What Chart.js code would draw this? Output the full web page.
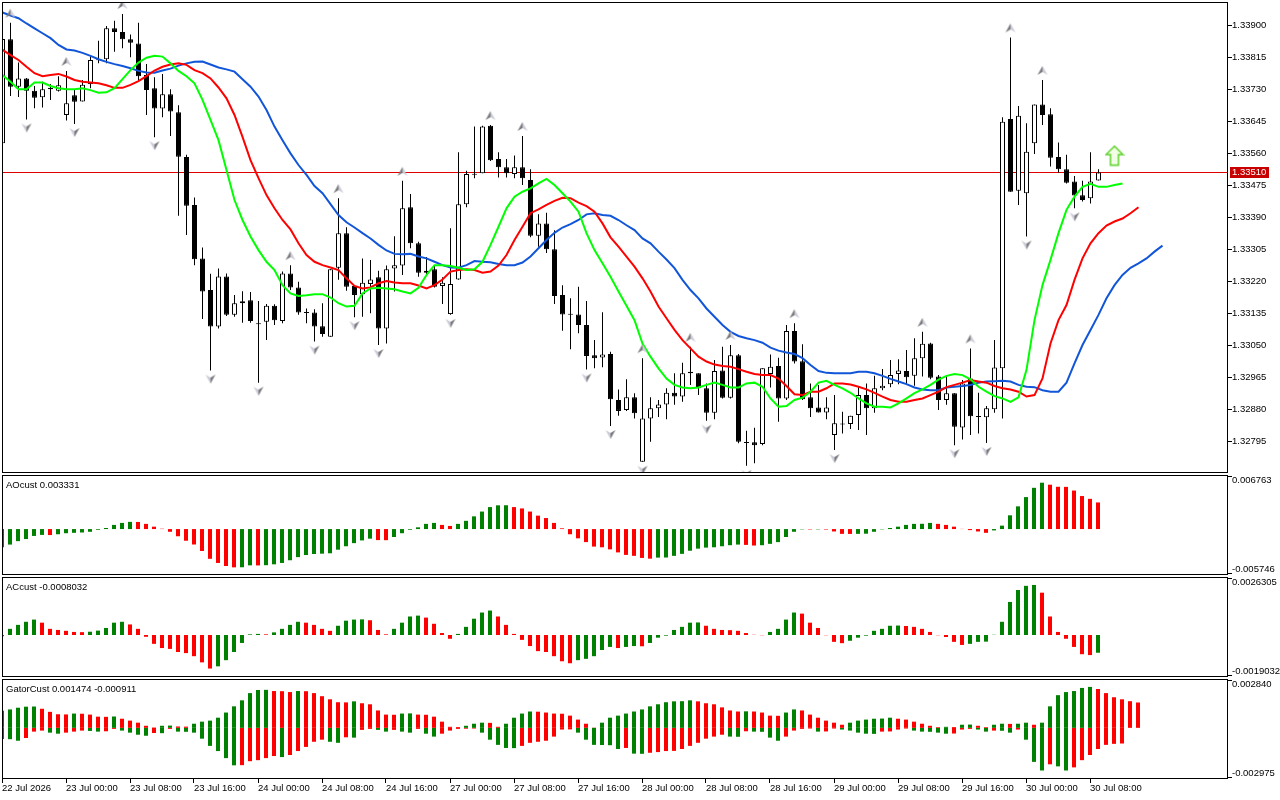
<!DOCTYPE html>
<html>
<head>
<meta charset="utf-8">
<title>H1 chart with Alligator, AO, AC, Gator</title>
<script src="https://cdn.jsdelivr.net/npm/chart.js@4.4.0/dist/chart.umd.min.js"></script>
<style>
  html, body { margin: 0; padding: 0; background: #fff; }
  body { width: 1280px; height: 800px; position: relative; overflow: hidden; }
  canvas { position: absolute; left: 0; }
</style>
</head>
<body>
<canvas id="mainChart" width="1280" height="475" style="top:0px"></canvas>
<canvas id="aoChart" width="1280" height="101" style="top:475px"></canvas>
<canvas id="acChart" width="1280" height="101" style="top:577px"></canvas>
<canvas id="gatorChart" width="1280" height="121" style="top:679px"></canvas>
<script>
// ---- data (one entry per H1 bar) ----
const opens = [
  1.33588,1.33864,1.33738,1.33760,1.33727,1.33710,1.33735,1.33727,1.33663,1.33715,
  1.33699,1.33745,1.33808,1.33811,1.33893,1.33883,1.33864,1.33853,1.33769,1.33734,
  1.33680,1.33718,1.33670,1.33551,1.33424,1.33282,1.33198,1.33101,1.33234,1.33132,
  1.33163,1.33171,1.33108,1.33114,1.33156,1.33116,1.33242,1.33205,1.33138,1.33138,
  1.33102,1.33074,1.33257,1.33349,1.33209,1.33187,1.33214,1.33232,1.33096,1.33255,
  1.33263,1.33418,1.33322,1.33244,1.33253,1.33209,1.33134,1.33226,1.33426,1.33506,
  1.33508,1.33634,1.33546,1.33524,1.33506,1.33524,1.33490,1.33342,1.33375,1.33306,
  1.33185,1.33133,1.33133,1.33105,1.33025,1.33019,1.33028,1.32906,1.32879,1.32913,
  1.32742,1.32857,1.32884,1.32894,1.32925,1.32915,1.32981,1.32977,1.32937,1.32872,
  1.32984,1.32912,1.33025,1.32792,1.32794,1.32789,1.32975,1.32996,1.32910,1.33089,
  1.33009,1.32913,1.32886,1.32873,1.32813,1.32842,1.32842,1.32866,1.32919,1.32884,
  1.32937,1.32948,1.32975,1.32983,1.32970,1.33017,1.33056,1.32968,1.32906,1.32924,
  1.32833,1.32963,1.32863,1.32860,1.32881,1.32990,1.33652,1.33462,1.33455,1.33588,
  1.33691,1.33665,1.33551,1.33519,1.33486,1.33450,1.33442,1.33489
];
const highs = [
  1.33875,1.33908,1.33802,1.33761,1.33740,1.33751,1.33745,1.33766,1.33780,1.33729,
  1.33756,1.33818,1.33860,1.33899,1.33913,1.33931,1.33877,1.33908,1.33798,1.33763,
  1.33772,1.33731,1.33689,1.33557,1.33444,1.33311,1.33241,1.33255,1.33242,1.33185,
  1.33195,1.33193,1.33169,1.33161,1.33160,1.33247,1.33264,1.33220,1.33149,1.33147,
  1.33163,1.33253,1.33442,1.33365,1.33211,1.33282,1.33278,1.33249,1.33263,1.33341,
  1.33488,1.33453,1.33326,1.33286,1.33264,1.33232,1.33362,1.33564,1.33515,1.33632,
  1.33634,1.33636,1.33564,1.33546,1.33555,1.33607,1.33519,1.33399,1.33403,1.33357,
  1.33211,1.33176,1.33207,1.33169,1.33065,1.33139,1.33034,1.32934,1.32961,1.32924,
  1.33017,1.32913,1.32906,1.32937,1.32977,1.33005,1.33047,1.32977,1.32950,1.33012,
  1.33047,1.33052,1.33028,1.32824,1.32832,1.32990,1.33027,1.33018,1.33105,1.33110,
  1.33054,1.32950,1.32946,1.32913,1.32919,1.32875,1.32864,1.32941,1.32950,1.32970,
  1.32988,1.33012,1.33014,1.33039,1.33070,1.33087,1.33058,1.32972,1.32968,1.32924,
  1.32959,1.33043,1.32925,1.32890,1.33065,1.33657,1.33869,1.33687,1.33641,1.33691,
  1.33756,1.33681,1.33590,1.33557,1.33501,1.33488,1.33564,1.33519
];
const lows = [
  1.33588,1.33713,1.33711,1.33651,1.33681,1.33683,1.33703,1.33725,1.33648,1.33639,
  1.33699,1.33734,1.33800,1.33800,1.33831,1.33840,1.33816,1.33754,1.33663,1.33604,
  1.33657,1.33607,1.33395,1.33344,1.33264,1.33121,1.32984,1.33096,1.33129,1.33127,
  1.33111,1.33111,1.32952,1.33065,1.33105,1.33110,1.33198,1.33132,1.33110,1.33061,
  1.33074,1.33074,1.33225,1.33196,1.33126,1.33127,1.33136,1.33052,1.33056,1.33194,
  1.33238,1.33309,1.33233,1.33238,1.33205,1.33161,1.33132,1.33225,1.33418,1.33495,
  1.33508,1.33541,1.33497,1.33497,1.33495,1.33477,1.33338,1.33313,1.33296,1.33161,
  1.33090,1.33041,1.33083,1.32987,1.32990,1.32993,1.32837,1.32864,1.32877,1.32857,
  1.32742,1.32795,1.32861,1.32855,1.32893,1.32901,1.32946,1.32919,1.32851,1.32855,
  1.32910,1.32910,1.32791,1.32731,1.32738,1.32786,1.32939,1.32848,1.32906,1.33003,
  1.32906,1.32861,1.32873,1.32855,1.32773,1.32817,1.32829,1.32826,1.32813,1.32872,
  1.32932,1.32940,1.32948,1.32948,1.32944,1.32968,1.32961,1.32879,1.32893,1.32786,
  1.32801,1.32813,1.32817,1.32792,1.32872,1.32857,1.33459,1.33424,1.33340,1.33559,
  1.33636,1.33526,1.33510,1.33481,1.33415,1.33433,1.33428,1.33489
];
const closes = [
  1.33865,1.33738,1.33760,1.33727,1.33709,1.33731,1.33731,1.33742,1.33694,1.33698,
  1.33743,1.33809,1.33810,1.33893,1.33883,1.33864,1.33855,1.33766,1.33729,1.33680,
  1.33718,1.33672,1.33552,1.33422,1.33280,1.33194,1.33101,1.33234,1.33132,1.33163,
  1.33168,1.33116,1.33107,1.33156,1.33118,1.33242,1.33205,1.33138,1.33137,1.33101,
  1.33081,1.33253,1.33349,1.33207,1.33185,1.33217,1.33226,1.33096,1.33253,1.33264,
  1.33415,1.33322,1.33244,1.33249,1.33207,1.33217,1.33214,1.33426,1.33506,1.33504,
  1.33632,1.33543,1.33524,1.33508,1.33524,1.33495,1.33342,1.33375,1.33306,1.33182,
  1.33133,1.33132,1.33105,1.33023,1.33017,1.33027,1.32908,1.32877,1.32913,1.32871,
  1.32857,1.32884,1.32894,1.32925,1.32915,1.32977,1.32977,1.32937,1.32872,1.32983,
  1.32912,1.33025,1.32795,1.32793,1.32786,1.32990,1.32994,1.32910,1.33089,1.33008,
  1.32908,1.32884,1.32873,1.32886,1.32844,1.32841,1.32864,1.32919,1.32884,1.32937,
  1.32944,1.32972,1.32984,1.32966,1.33017,1.33055,1.32965,1.32906,1.32924,1.32835,
  1.32950,1.32863,1.32861,1.32884,1.32992,1.33645,1.33459,1.33661,1.33565,1.33691,
  1.33663,1.33549,1.33519,1.33483,1.33449,1.33437,1.33486,1.33510
];

// Alligator lines (they run past the last bar: jaw +8, teeth +5, lips +3)
const jaw = [
  1.33935,1.33927,1.33920,1.33906,1.33893,1.33880,1.33867,1.33849,1.33837,1.33834,
  1.33828,1.33820,1.33811,1.33804,1.33798,1.33793,1.33787,1.33780,1.33776,1.33775,
  1.33781,1.33786,1.33794,1.33800,1.33804,1.33805,1.33797,1.33789,1.33784,1.33778,
  1.33758,1.33738,1.33712,1.33676,1.33632,1.33596,1.33561,1.33530,1.33504,1.33474,
  1.33455,1.33426,1.33397,1.33378,1.33364,1.33349,1.33335,1.33318,1.33303,1.33294,
  1.33293,1.33294,1.33287,1.33282,1.33273,1.33264,1.33258,1.33257,1.33264,1.33275,
  1.33273,1.33272,1.33267,1.33264,1.33264,1.33271,1.33287,1.33309,1.33331,1.33350,
  1.33364,1.33373,1.33384,1.33399,1.33402,1.33397,1.33395,1.33384,1.33370,1.33357,
  1.33335,1.33322,1.33300,1.33279,1.33256,1.33225,1.33198,1.33176,1.33149,1.33127,
  1.33105,1.33087,1.33076,1.33070,1.33065,1.33058,1.33045,1.33037,1.33032,1.33028,
  1.33017,1.32999,1.32983,1.32978,1.32977,1.32977,1.32977,1.32981,1.32981,1.32977,
  1.32970,1.32962,1.32955,1.32948,1.32939,1.32934,1.32932,1.32932,1.32939,1.32941,
  1.32943,1.32946,1.32952,1.32955,1.32956,1.32957,1.32955,1.32946,1.32941,1.32940,
  1.32932,1.32928,1.32928,1.32952,1.33003,1.33052,1.33092,1.33132,1.33176,1.33211,
  1.33238,1.33257,1.33269,1.33282,1.33300,1.33316
];
const teeth = [
  1.33836,1.33822,1.33809,1.33791,1.33774,1.33766,1.33769,1.33772,1.33765,1.33756,
  1.33751,1.33749,1.33747,1.33742,1.33735,1.33735,1.33743,1.33753,1.33766,1.33781,
  1.33791,1.33797,1.33800,1.33796,1.33782,1.33774,1.33760,1.33736,1.33707,1.33663,
  1.33605,1.33543,1.33495,1.33450,1.33415,1.33384,1.33359,1.33322,1.33291,1.33273,
  1.33264,1.33258,1.33251,1.33229,1.33209,1.33202,1.33205,1.33216,1.33222,1.33218,
  1.33216,1.33216,1.33210,1.33202,1.33211,1.33226,1.33247,1.33251,1.33253,1.33251,
  1.33244,1.33247,1.33263,1.33291,1.33331,1.33366,1.33402,1.33412,1.33424,1.33435,
  1.33443,1.33442,1.33430,1.33421,1.33406,1.33375,1.33338,1.33313,1.33287,1.33260,
  1.33229,1.33194,1.33154,1.33123,1.33092,1.33065,1.33043,1.33021,1.33008,1.33000,
  1.32996,1.32994,1.32988,1.32981,1.32975,1.32972,1.32972,1.32963,1.32943,1.32921,
  1.32919,1.32928,1.32928,1.32937,1.32950,1.32950,1.32947,1.32941,1.32934,1.32925,
  1.32915,1.32906,1.32901,1.32901,1.32906,1.32910,1.32919,1.32928,1.32940,1.32946,
  1.32952,1.32959,1.32955,1.32952,1.32943,1.32937,1.32934,1.32928,1.32915,1.32919,
  1.32963,1.33056,1.33118,1.33158,1.33225,1.33282,1.33322,1.33349,1.33369,1.33380,
  1.33388,1.33402,1.33418
];
const lips = [
  1.33769,1.33751,1.33731,1.33731,1.33749,1.33749,1.33740,1.33734,1.33731,1.33731,
  1.33734,1.33729,1.33722,1.33723,1.33734,1.33758,1.33782,1.33802,1.33815,1.33820,
  1.33818,1.33800,1.33780,1.33766,1.33747,1.33703,1.33650,1.33596,1.33517,1.33437,
  1.33384,1.33340,1.33304,1.33273,1.33251,1.33211,1.33189,1.33182,1.33184,1.33187,
  1.33187,1.33178,1.33163,1.33154,1.33156,1.33189,1.33202,1.33204,1.33202,1.33200,
  1.33194,1.33189,1.33204,1.33238,1.33264,1.33264,1.33262,1.33257,1.33251,1.33253,
  1.33273,1.33318,1.33366,1.33415,1.33446,1.33459,1.33468,1.33481,1.33493,1.33477,
  1.33455,1.33433,1.33406,1.33349,1.33304,1.33269,1.33233,1.33194,1.33156,1.33118,
  1.33056,1.33021,1.32990,1.32963,1.32946,1.32939,1.32937,1.32939,1.32946,1.32952,
  1.32946,1.32939,1.32939,1.32950,1.32952,1.32941,1.32910,1.32888,1.32890,1.32906,
  1.32912,1.32928,1.32952,1.32957,1.32946,1.32937,1.32925,1.32910,1.32897,1.32888,
  1.32888,1.32886,1.32897,1.32910,1.32924,1.32934,1.32946,1.32960,1.32970,1.32975,
  1.32972,1.32961,1.32941,1.32928,1.32916,1.32910,1.32901,1.32913,1.32986,1.33118,
  1.33211,1.33278,1.33349,1.33411,1.33446,1.33472,1.33480,1.33472,1.33472,1.33477,
  1.33481
];

// bars that carry a fractal arrow
const fractalUpIdx = [1, 8, 15, 36, 42, 50, 61, 65, 80, 86, 91, 99, 115, 121, 126, 130];
const fractalDownIdx = [3, 9, 19, 26, 32, 39, 44, 47, 56, 73, 76, 80, 88, 93, 104, 119, 123, 128, 134];

const bidPrice = 1.33510;
const signalIdx = 139;
const signalPrice = 1.33555;

// oscillators
const ao = [
  -0.00228,-0.00194,-0.00151,-0.00125,-0.00086,-0.00073,-0.00075,-0.00065,-0.00052,-0.00047,
  -0.00043,-0.00034,-0.00009,0.00013,0.00052,0.00077,0.00090,0.00089,0.00065,0.00030,
  0.00004,-0.00034,-0.00090,-0.00146,-0.00193,-0.00274,-0.00372,-0.00424,-0.00462,-0.00479,
  -0.00478,-0.00454,-0.00455,-0.00452,-0.00441,-0.00424,-0.00390,-0.00351,-0.00325,-0.00312,
  -0.00308,-0.00303,-0.00258,-0.00215,-0.00176,-0.00142,-0.00120,-0.00138,-0.00139,-0.00099,
  -0.00052,-0.00009,0.00022,0.00065,0.00077,0.00052,0.00039,0.00065,0.00103,0.00159,
  0.00219,0.00275,0.00297,0.00298,0.00275,0.00258,0.00219,0.00168,0.00138,0.00077,
  0.00009,-0.00065,-0.00116,-0.00163,-0.00219,-0.00228,-0.00254,-0.00292,-0.00323,-0.00335,
  -0.00361,-0.00370,-0.00357,-0.00356,-0.00335,-0.00310,-0.00271,-0.00245,-0.00232,-0.00228,
  -0.00215,-0.00202,-0.00194,-0.00198,-0.00206,-0.00202,-0.00185,-0.00163,-0.00099,-0.00034,
  -0.00004,-0.00005,-0.00004,-0.00006,-0.00030,-0.00060,-0.00061,-0.00060,-0.00058,-0.00034,
  -0.00004,0.00013,0.00030,0.00052,0.00065,0.00066,0.00077,0.00065,0.00052,0.00030,
  0.00002,-0.00013,-0.00030,-0.00047,-0.00017,0.00043,0.00172,0.00284,0.00400,0.00516,
  0.00580,0.00555,0.00529,0.00528,0.00482,0.00413,0.00378,0.003331
];
const ac = [
  -0.00006,0.00028,0.00046,0.00060,0.00070,0.00056,0.00028,0.00023,0.00019,0.00014,
  0.00013,0.00015,0.00020,0.00032,0.00056,0.00060,0.00048,0.00028,-0.00008,-0.00040,
  -0.00059,-0.00063,-0.00077,-0.00082,-0.00096,-0.00124,-0.00152,-0.00142,-0.00114,-0.00077,
  -0.00036,0.00003,0.00005,0.00003,0.00012,0.00028,0.00046,0.00060,0.00056,0.00046,
  0.00028,0.00019,0.00042,0.00065,0.00070,0.00071,0.00067,0.00023,0.00003,0.00028,
  0.00056,0.00084,0.00088,0.00079,0.00051,0.00009,-0.00017,0.00005,0.00037,0.00074,
  0.00102,0.00111,0.00084,0.00046,0.00005,-0.00022,-0.00050,-0.00073,-0.00077,-0.00096,
  -0.00119,-0.00128,-0.00114,-0.00108,-0.00096,-0.00068,-0.00054,-0.00059,-0.00054,-0.00050,
  -0.00051,-0.00036,-0.00012,-0.00003,0.00023,0.00037,0.00056,0.00057,0.00042,0.00028,
  0.00023,0.00022,0.00019,0.00009,0.00001,-0.00001,0.00014,0.00028,0.00070,0.00102,
  0.00097,0.00056,0.00032,-0.00001,-0.00031,-0.00037,-0.00026,-0.00012,-0.00003,0.00019,
  0.00028,0.00042,0.00043,0.00041,0.00037,0.00028,0.00014,-0.00001,-0.00009,-0.00031,
  -0.00045,-0.00040,-0.00031,-0.00030,0.00001,0.00060,0.00150,0.00204,0.00223,0.00227,
  0.00192,0.00084,0.00014,-0.00017,-0.00054,-0.00087,-0.00091,-0.0008032
];
const gatorUp = [
  0.00099,0.00107,0.00117,0.00123,0.00124,0.00111,0.00093,0.00079,0.00078,0.00083,
  0.00082,0.00077,0.00065,0.00064,0.00066,0.00053,0.00042,0.00030,0.00012,0.00002,
  0.00012,0.00013,0.00008,0.00007,0.00024,0.00036,0.00042,0.00059,0.00089,0.00125,
  0.00160,0.00202,0.00220,0.00221,0.00214,0.00213,0.00208,0.00214,0.00213,0.00202,
  0.00184,0.00166,0.00149,0.00148,0.00154,0.00143,0.00137,0.00101,0.00077,0.00076,
  0.00083,0.00084,0.00077,0.00076,0.00065,0.00036,0.00006,0.00005,0.00012,0.00024,
  0.00030,0.00029,0.00006,0.00024,0.00059,0.00083,0.00095,0.00094,0.00089,0.00083,
  0.00082,0.00071,0.00048,0.00024,0.00001,0.00030,0.00059,0.00071,0.00083,0.00095,
  0.00107,0.00125,0.00137,0.00149,0.00154,0.00155,0.00160,0.00154,0.00143,0.00137,
  0.00119,0.00101,0.00095,0.00096,0.00095,0.00089,0.00071,0.00070,0.00089,0.00107,
  0.00101,0.00077,0.00059,0.00042,0.00030,0.00018,0.00030,0.00042,0.00048,0.00053,
  0.00054,0.00059,0.00053,0.00048,0.00036,0.00024,0.00012,0.00004,0.00006,0.00005,
  0.00018,0.00019,0.00012,0.00004,0.00018,0.00024,0.00023,0.00024,0.00030,0.00018,
  0.00030,0.00125,0.00190,0.00208,0.00214,0.00232,0.00238,0.00226,0.00202,0.00178,
  0.00166,0.00155,0.001474
];
const gatorDown = [
  -0.00065,-0.00066,-0.00075,-0.00059,-0.00022,-0.00016,-0.00028,-0.00034,-0.00028,-0.00022,
  -0.00016,-0.00018,-0.00022,-0.00020,-0.00006,-0.00016,-0.00028,-0.00040,-0.00046,-0.00030,
  -0.00031,-0.00006,-0.00022,-0.00023,-0.00028,-0.00063,-0.00105,-0.00135,-0.00176,-0.00218,
  -0.00217,-0.00194,-0.00188,-0.00176,-0.00164,-0.00170,-0.00158,-0.00135,-0.00111,-0.00081,
  -0.00069,-0.00081,-0.00087,-0.00055,-0.00057,-0.00012,-0.00006,-0.00012,-0.00022,-0.00012,
  -0.00022,-0.00028,-0.00006,-0.00034,-0.00051,-0.00034,-0.00016,-0.00006,-0.00005,-0.00004,
  -0.00028,-0.00069,-0.00099,-0.00117,-0.00118,-0.00105,-0.00087,-0.00081,-0.00075,-0.00051,
  -0.00010,-0.00009,-0.00028,-0.00069,-0.00099,-0.00100,-0.00101,-0.00123,-0.00117,-0.00150,
  -0.00151,-0.00145,-0.00141,-0.00135,-0.00134,-0.00123,-0.00105,-0.00087,-0.00063,-0.00051,
  -0.00040,-0.00051,-0.00052,-0.00020,-0.00022,-0.00023,-0.00057,-0.00075,-0.00051,-0.00016,
  -0.00006,-0.00004,-0.00022,-0.00021,-0.00004,-0.00010,-0.00016,-0.00028,-0.00034,-0.00035,
  -0.00022,-0.00021,-0.00010,-0.00004,-0.00016,-0.00022,-0.00023,-0.00028,-0.00034,-0.00033,
  -0.00010,-0.00006,-0.00010,-0.00022,-0.00016,-0.00017,-0.00028,-0.00010,-0.00069,-0.00198,
  -0.00248,-0.00212,-0.00224,-0.00248,-0.00230,-0.00188,-0.00158,-0.00123,-0.00099,-0.00093,
  -0.000911
];

// axis ranges and tick labels
const priceRange = [1.32712, 1.33963];
const priceTicks = [1.33900, 1.33815, 1.33730, 1.33645, 1.33560, 1.33475, 1.33390,
                    1.33305, 1.33220, 1.33135, 1.33050, 1.32965, 1.32880, 1.32795];
const aoRange = [-0.005746, 0.006763];
const acRange = [-0.0019032, 0.0026305];
const gatorRange = [-0.002975, 0.002840];
const timeTickIdx = [0, 8, 16, 24, 32, 40, 48, 56, 64, 72, 80, 88, 96, 104, 112, 120, 128, 136];
const timeLabels = ['22 Jul 2026', '23 Jul 00:00', '23 Jul 08:00', '23 Jul 16:00', '24 Jul 00:00',
  '24 Jul 08:00', '24 Jul 16:00', '27 Jul 00:00', '27 Jul 08:00', '27 Jul 16:00', '28 Jul 00:00',
  '28 Jul 08:00', '28 Jul 16:00', '29 Jul 00:00', '29 Jul 08:00', '29 Jul 16:00', '30 Jul 00:00',
  '30 Jul 08:00'];

// ---- look ----
const FONT_FAMILY = '"Liberation Sans", Arial, sans-serif';
const FONT_SIZE = 9.5;
const GREEN = '#008000';
const RED = '#ff0000';

// grey arrow heads drawn a few pixels off the high / low
function makeFractalIcon(up) {
  const c = document.createElement('canvas');
  c.width = 12; c.height = 36;
  const g = c.getContext('2d');
  const s = up ? 1 : -1;
  const cy = up ? 18 - 9 : 18 + 8;
  const tip = [6, cy - 5 * s], lw = [1, cy + 4 * s], rw = [11, cy + 4 * s], notch = [6, cy + 1 * s];
  g.fillStyle = up ? '#7a7a7a' : '#c9cad8';
  g.beginPath(); g.moveTo(...tip); g.lineTo(...lw); g.lineTo(...notch); g.closePath(); g.fill();
  g.fillStyle = up ? '#c9cad8' : '#7a7a7a';
  g.beginPath(); g.moveTo(...tip); g.lineTo(...rw); g.lineTo(...notch); g.closePath(); g.fill();
  return c;
}

function makeSignalIcon() {
  const c = document.createElement('canvas');
  c.width = 20; c.height = 22;
  const g = c.getContext('2d');
  g.beginPath();
  g.moveTo(10, 1.5); g.lineTo(18.5, 10); g.lineTo(14, 10); g.lineTo(14, 20.5);
  g.lineTo(6, 20.5); g.lineTo(6, 10); g.lineTo(1.5, 10); g.closePath();
  g.fillStyle = '#f2ffe6'; g.fill();
  g.strokeStyle = '#5ed12a'; g.lineWidth = 1.5; g.stroke();
  return c;
}

// frame, side labels and bid line for each window
const panelPlugin = {
  id: 'panel',
  beforeDatasetsDraw(chart, args, o) {
    if (o.bid === undefined) return;
    const a = chart.chartArea, ctx = chart.ctx;
    const y = Math.floor(chart.scales.y.getPixelForValue(o.bid));
    ctx.save();
    ctx.fillStyle = '#e00000';
    ctx.fillRect(a.left, y, a.right - a.left, 1);
    ctx.restore();
  },
  afterDraw(chart, args, o) {
    const a = chart.chartArea, ctx = chart.ctx;
    ctx.save();
    ctx.strokeStyle = '#000'; ctx.lineWidth = 1;
    ctx.strokeRect(a.left + 0.5, a.top + 0.5, a.right - a.left - 1, a.bottom - a.top - 1);
    ctx.font = FONT_SIZE + 'px ' + FONT_FAMILY;
    ctx.textBaseline = 'middle'; ctx.textAlign = 'left'; ctx.fillStyle = '#000';
    if (o.title) ctx.fillText(o.title, a.left + 4, a.top + 10);
    if (o.range) {
      const ys = chart.scales.y;
      const top = ys.getPixelForValue(o.range[1]);
      const bot = ys.getPixelForValue(o.range[0]);
      ctx.beginPath();
      ctx.moveTo(a.right, Math.round(top) + 1.5); ctx.lineTo(a.right + 4, Math.round(top) + 1.5);
      ctx.moveTo(a.right, Math.round(bot) - 1.5); ctx.lineTo(a.right + 4, Math.round(bot) - 1.5);
      ctx.stroke();
      ctx.fillText(o.range[1].toFixed(o.decimals), a.right + 4, top + 5.5);
      ctx.fillText(o.range[0].toFixed(o.decimals), a.right + 4, bot - 5.5);
    }
    if (o.bid !== undefined) {
      const y = Math.floor(chart.scales.y.getPixelForValue(o.bid));
      ctx.fillStyle = '#c80000';
      ctx.fillRect(a.right + 2, y - 5, 39, 11);
      ctx.fillStyle = '#ffffff';
      ctx.fillText(o.bid.toFixed(5), a.right + 4, y + 0.5);
    }
    ctx.restore();
  }
};

function xAxis(min, max, show) {
  const axis = { type: 'linear', min: min, max: max, offset: false, display: show,
    grid: { offset: false } };
  if (show) {
    Object.assign(axis, {
      afterBuildTicks: s => { s.ticks = timeTickIdx.map(v => ({ value: v })); },
      afterFit: s => { s.height = 21; s.paddingLeft = 0; s.paddingRight = 0; },
      ticks: {
        align: 'start', padding: 0, color: '#000', maxRotation: 0, autoSkip: false,
        font: { family: FONT_FAMILY, size: FONT_SIZE },
        callback: v => { const k = timeTickIdx.indexOf(v); return k >= 0 ? timeLabels[k] : ''; }
      },
      grid: { offset: false, drawOnChartArea: false, drawTicks: true, tickLength: 4,
        color: '#000', tickColor: '#000' },
      border: { display: false }
    });
  }
  return axis;
}

const common = {
  responsive: false, maintainAspectRatio: false, animation: false, devicePixelRatio: 1,
  events: []
};

// ---- main window ----
const wickData = lows.map((l, i) => ({ x: i, y: [l, highs[i]] }));
const bodyData = opens.map((o, i) => ({ x: i, y: [o, closes[i]] }));
const asPoints = arr => arr.map((v, i) => ({ x: i, y: v }));

new Chart(document.getElementById('mainChart'), {
  type: 'bar',
  data: {
    datasets: [
      { type: 'line', data: fractalUpIdx.map(i => ({ x: i, y: highs[i] })), showLine: false,
        pointStyle: makeFractalIcon(true), pointRadius: 5, order: 0 },
      { type: 'line', data: fractalDownIdx.map(i => ({ x: i, y: lows[i] })), showLine: false,
        pointStyle: makeFractalIcon(false), pointRadius: 5, order: 0 },
      { type: 'line', data: [{ x: signalIdx, y: signalPrice }], showLine: false,
        pointStyle: makeSignalIcon(), pointRadius: 5, order: 0 },
      { type: 'line', data: asPoints(lips), borderColor: '#00ff00', borderWidth: 2,
        pointRadius: 0, tension: 0, order: 1 },
      { type: 'line', data: asPoints(teeth), borderColor: '#ff0000', borderWidth: 2,
        pointRadius: 0, tension: 0, order: 1 },
      { type: 'line', data: asPoints(jaw), borderColor: '#1155d8', borderWidth: 2,
        pointRadius: 0, tension: 0, order: 1 },
      { type: 'bar', data: bodyData, barThickness: 5, grouped: false, inflateAmount: 0,
        minBarLength: 1, borderSkipped: false, borderWidth: 1, borderColor: '#000',
        backgroundColor: c => closes[c.dataIndex] >= opens[c.dataIndex] ? '#ffffff' : '#000000',
        order: 2 },
      { type: 'bar', data: wickData, barThickness: 1, grouped: false, inflateAmount: 0,
        borderWidth: 0, backgroundColor: '#000', order: 3 }
    ]
  },
  options: Object.assign({}, common, {
    layout: { autoPadding: false, padding: { left: 2, top: 2, bottom: 2, right: 0 } },
    scales: {
      x: xAxis(-0.0625, 153.1875, false),
      y: {
        type: 'linear', position: 'right', min: priceRange[0], max: priceRange[1],
        afterBuildTicks: s => { s.ticks = priceTicks.map(v => ({ value: v })); },
        afterFit: s => { s.width = 52; s.paddingTop = 0; s.paddingBottom = 0; },
        ticks: { padding: 0, color: '#000', autoSkip: false,
          font: { family: FONT_FAMILY, size: FONT_SIZE }, callback: v => v.toFixed(5) },
        grid: { drawOnChartArea: false, drawTicks: true, tickLength: 4, color: '#000', tickColor: '#000' },
        border: { display: false }
      }
    },
    plugins: { legend: { display: false }, tooltip: { enabled: false },
      panel: { bid: bidPrice } }
  }),
  plugins: [panelPlugin]
});

// ---- sub windows ----
function histogram(values, isUp) {
  return {
    type: 'bar', data: asPoints(values), barThickness: 4, grouped: false,
    inflateAmount: 0, borderWidth: 0,
    backgroundColor: c => {
      const i = c.dataIndex;
      return (i === 0 || isUp(values[i], values[i - 1])) ? GREEN : RED;
    }
  };
}
const rising = (v, p) => v >= p;
const widening = (v, p) => Math.abs(v) > Math.abs(p);

function subWindow(id, datasets, range, title, decimals, showTime) {
  new Chart(document.getElementById(id), {
    type: 'bar',
    data: { datasets: datasets },
    options: Object.assign({}, common, {
      layout: { autoPadding: false,
        padding: { left: 2, top: 0, bottom: showTime ? 0 : 1, right: 52 } },
      scales: {
        x: xAxis(0, 153.25, showTime),
        y: { type: 'linear', display: false, min: range[0], max: range[1] }
      },
      plugins: { legend: { display: false }, tooltip: { enabled: false },
        panel: { title: title, range: range, decimals: decimals } }
    }),
    plugins: [panelPlugin]
  });
}

subWindow('aoChart', [histogram(ao, rising)], aoRange,
  'AOcust ' + ao[ao.length - 1].toFixed(6), 6, false);
subWindow('acChart', [histogram(ac, rising)], acRange,
  'ACcust ' + ac[ac.length - 1].toFixed(7), 7, false);
subWindow('gatorChart', [histogram(gatorUp, rising), histogram(gatorDown, widening)], gatorRange,
  'GatorCust ' + gatorUp[gatorUp.length - 1].toFixed(6) + ' ' + gatorDown[gatorDown.length - 1].toFixed(6), 6, true);
</script>
</body>
</html>
